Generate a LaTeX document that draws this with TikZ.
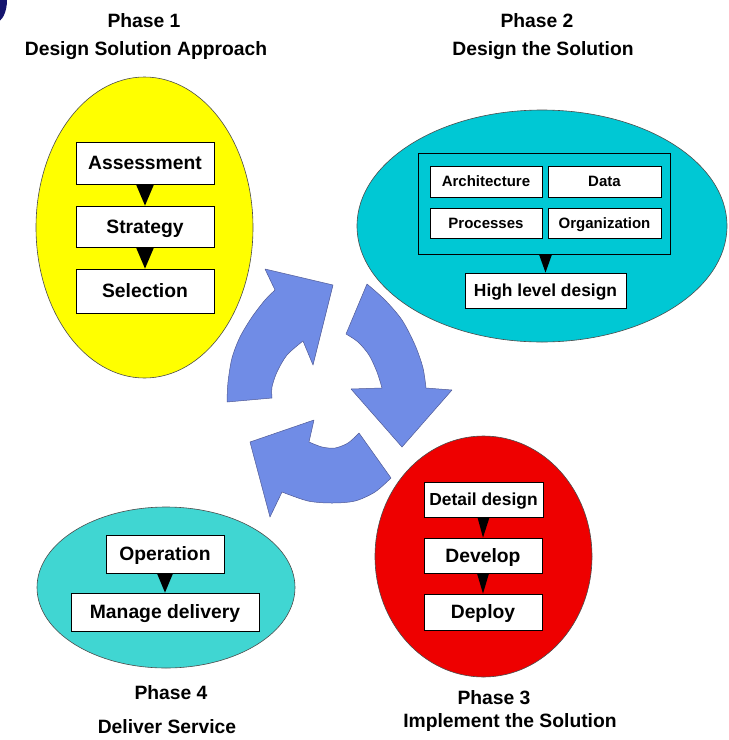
\documentclass[tikz,border=0pt]{standalone}
\usepackage{fontspec}
\setmainfont{Liberation Sans}
\definecolor{yel}{RGB}{255,255,0}
\definecolor{cyanb}{RGB}{0,200,212}
\definecolor{cyand}{RGB}{64,214,210}
\definecolor{redc}{RGB}{238,0,0}
\definecolor{arrowc}{RGB}{112,140,230}
\definecolor{arrowline}{RGB}{80,90,150}
\definecolor{navyc}{RGB}{20,20,110}
\begin{document}
\begin{tikzpicture}[x=1pt,y=-1pt,
  ell/.style={draw=black!70,line width=0.6pt},
  box/.style={draw=black,line width=0.8pt,fill=white,inner sep=0pt,align=center},
  bigf/.style={font=\fontsize{19.3}{22}\selectfont\bfseries,text height=13.9pt,text depth=0pt},
  midf/.style={font=\fontsize{17.4}{20}\selectfont\bfseries,text height=12.5pt,text depth=0pt},
  smallf/.style={font=\fontsize{15}{18}\selectfont\bfseries,text height=10.8pt,text depth=0pt},
  lbl/.style={font=\fontsize{19.3}{22}\selectfont\bfseries,inner sep=0pt,anchor=base},
  cyc/.style={fill=arrowc,draw=arrowline,line width=0.5pt,line join=round}]
\useasboundingbox (0,0) rectangle (729,740);

% top-left corner blob
\fill[navyc] (-4,0) ellipse [x radius=11, y radius=22];

% ellipses
\draw[ell,fill=yel] (144.5,227.5) ellipse [x radius=108.5, y radius=150.5];
\draw[ell,fill=cyanb] (542,226) ellipse [x radius=185, y radius=116];
\draw[ell,fill=redc] (483.5,556.5) ellipse [x radius=108.5, y radius=120.5];
\draw[ell,fill=cyand] (166,587.5) ellipse [x radius=129, y radius=80.5];

% cycle arrows
\draw[cyc] plot[smooth] coordinates {(227,402) (228,382) (232,358) (240,337) (252,317) (265,300) (275,290)}
  -- (265,269) -- (333,285) -- (313,365) -- (303,341)
  -- plot[smooth] coordinates {(303,341) (287,355) (277,372) (272,387) (272,398)} -- cycle;
\draw[cyc] plot[smooth] coordinates {(367,284) (385,300) (402,320) (415,345) (423,368) (426,388)}
  -- (452,390) -- (402,447) -- (351,389) -- (382,388)
  -- plot[smooth] coordinates {(382,388) (377,372) (369,355) (358,342) (346,334)} -- cycle;
\draw[cyc] plot[smooth] coordinates {(391,478) (375,492) (355,501) (332,503) (308,501) (282,492)}
  -- (270,517) -- (250,442) -- (314,420) -- (309,442)
  -- plot[smooth] coordinates {(309,442) (322,447) (335,448) (348,443) (359,433)} -- cycle;

% Phase 1
\node[box,bigf,minimum width=138pt,minimum height=42pt] (assess) at (145,163) {Assessment};
\node[box,bigf,minimum width=138pt,minimum height=41pt] (strat) at (145,226.5) {Strategy};
\node[box,bigf,minimum width=138pt,minimum height=44pt] (select) at (145,291) {Selection};
\fill ([xshift=-9pt]assess.south) -- ([xshift=9pt]assess.south) -- (strat.north) -- cycle;
\fill ([xshift=-9pt]strat.south) -- ([xshift=9pt]strat.south) -- (select.north) -- cycle;

% Phase 2
\node[draw=black,line width=0.8pt,fill=cyanb,minimum width=252pt,minimum height=101pt,inner sep=0pt] (p2box) at (544,203.5) {};
\node[box,smallf,minimum width=112pt,minimum height=31pt] (arch) at (486,181.5) {Architecture};
\node[box,smallf,minimum width=113pt,minimum height=31pt] (data) at (604.5,181.5) {Data};
\node[box,smallf,minimum width=112pt,minimum height=30pt] (proc) at (486,223) {Processes};
\node[box,smallf,minimum width=113pt,minimum height=30pt] (org) at (604.5,223) {Organization};
\node[box,midf,minimum width=161pt,minimum height=35pt] (hld) at (545.5,290.5) {High level design};
\fill ([xshift=-6.5pt]hld.north |- p2box.south) -- ([xshift=6.5pt]hld.north |- p2box.south) -- (hld.north) -- cycle;

% Phase 3
\node[box,midf,minimum width=119pt,minimum height=35pt] (detail) at (483.5,499.5) {Detail design};
\node[box,bigf,minimum width=118pt,minimum height=35pt] (develop) at (483,555.5) {Develop};
\node[box,bigf,minimum width=118pt,minimum height=36pt] (deploy) at (483,612) {Deploy};
\fill ([xshift=-6pt]detail.south) -- ([xshift=6pt]detail.south) -- (develop.north) -- cycle;
\fill ([xshift=-6pt]develop.south) -- ([xshift=6pt]develop.south) -- (deploy.north) -- cycle;

% Phase 4
\node[box,bigf,minimum width=118pt,minimum height=38pt] (oper) at (165,554) {Operation};
\node[box,bigf,minimum width=188pt,minimum height=38pt] (manage) at (165,612) {Manage delivery};
\fill ([xshift=-8pt]oper.south) -- ([xshift=8pt]oper.south) -- (manage.north) -- cycle;

% labels
\node[lbl] (l1a) at (144,27) {Phase 1};
\node[lbl] (l1b) at (146,55) {Design Solution Approach};
\node[lbl] (l2a) at (537,27) {Phase 2};
\node[lbl] (l2b) at (543,55) {Design the Solution};
\node[lbl] (l3a) at (494,704) {Phase 3};
\node[lbl] (l3b) at (510,727) {Implement the Solution};
\node[lbl] (l4a) at (171,699) {Phase 4};
\node[lbl] (l4b) at (167,733) {Deliver Service};
\end{tikzpicture}
\end{document}
